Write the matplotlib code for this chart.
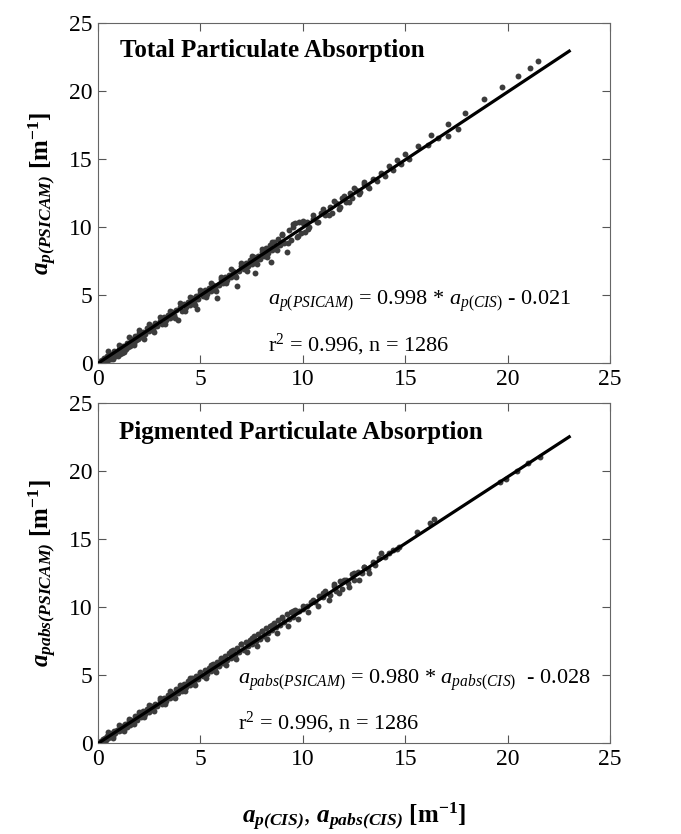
import numpy as np
import matplotlib
matplotlib.use("Agg")
import matplotlib.pyplot as plt

plt.rcParams["font.family"] = ["Liberation Serif", "DejaVu Serif"]
plt.rcParams["mathtext.fontset"] = "custom"
plt.rcParams["mathtext.rm"] = "Liberation Serif"
plt.rcParams["mathtext.it"] = "Liberation Serif:italic"
plt.rcParams["mathtext.bf"] = "Liberation Serif:bold"
plt.rcParams["mathtext.bfit"] = "Liberation Serif:italic:bold"

# total particulate absorption
ap_cis = [0.02, 0.05, 0.1, 0.15, 0.2, 0.25, 0.3, 0.35, 0.4, 0.45, 0.5, 0.55, 0.6, 0.65, 0.7, 0.75,
          0.8, 0.85, 0.9, 0.95, 1.0, 1.05, 1.1, 1.15, 1.2, 1.25, 1.3, 1.35, 1.4, 1.45, 1.5, 1.55,
          1.6, 1.65, 1.7, 1.75, 1.8, 1.85, 1.9, 1.95, 2.0, 2.1, 2.2, 2.3, 2.4, 2.5, 2.6, 2.7,
          2.8, 2.9, 3.0, 3.1, 3.2, 3.3, 3.4, 3.5, 3.6, 3.7, 3.8, 3.9, 4.0, 4.1, 4.2, 4.3,
          4.4, 4.5, 4.6, 4.7, 4.8, 4.85, 4.9, 5.0, 5.1, 5.2, 5.3, 5.4, 5.5, 5.6, 5.7, 5.8,
          5.9, 6.0, 6.1, 6.2, 6.3, 6.4, 6.5, 6.6, 6.7, 6.8, 6.9, 7.0, 7.1, 7.2, 7.3, 7.4,
          7.5, 7.6, 7.65, 7.7, 7.8, 7.9, 8.0, 8.1, 8.2, 8.3, 8.4, 8.45, 8.5, 8.6, 8.7, 8.8,
          8.9, 9.0, 9.1, 9.2, 9.3, 9.4, 9.5, 9.6, 9.7, 9.8, 9.9, 10.0, 10.1, 10.2, 10.3, 10.5,
          10.7, 10.9, 11.1, 11.3, 11.4, 11.6, 11.8, 11.9, 12.1, 12.3, 12.4, 12.6, 12.8, 13.0, 13.2, 13.4,
          13.6, 13.8, 14.0, 14.2, 14.4, 14.6, 14.8, 15.0, 15.2, 15.6, 16.1, 16.25, 16.6, 17.06, 17.06, 17.56,
          17.9, 18.85, 19.7, 20.5, 21.1, 21.5,
          # band edges
          0.5, 1.0, 1.5, 2.0, 2.5, 3.0, 3.5, 4.0, 4.5, 5.0, 5.5, 6.0, 6.5, 7.0, 7.5, 8.0,
          8.5, 9.0, 9.5, 10.0, 10.5, 11.0, 11.5, 12.0, 12.5, 13.0,
          0.75, 1.25, 1.75, 2.25, 2.75, 3.25, 3.75, 4.25, 4.75, 5.25, 5.75, 6.25, 6.75, 7.25, 7.75, 8.25,
          8.75, 9.25, 9.75, 10.25, 10.75, 11.25, 11.75, 12.25, 12.75, 13.25]
ap_psicam = [0.05, 0.0, 0.12, 0.05, 0.25, 0.1, 0.35, 0.2, 0.3, 0.5, 0.2, 0.45, 0.65, 0.3, 0.6, 0.4,
             0.85, 0.5, 0.75, 0.55, 1.05, 0.7, 0.95, 0.75, 1.25, 0.9, 1.1, 1.0, 1.5, 1.15, 1.45, 1.25,
             1.75, 1.4, 1.65, 1.5, 2.0, 1.7, 1.9, 1.75, 2.2, 1.95, 2.3, 2.15, 2.55, 2.35, 2.7, 2.5,
             2.95, 2.7, 3.1, 2.85, 3.35, 3.15, 3.5, 3.3, 3.75, 3.55, 3.9, 3.2, 4.15, 3.85, 4.35, 4.1,
             4.5, 4.3, 4.75, 4.5, 4.95, 3.95, 4.7, 5.15, 4.9, 5.35, 5.1, 5.5, 5.3, 5.75, 5.5, 4.8,
             5.75, 6.15, 5.9, 6.35, 6.1, 6.5, 6.3, 6.75, 6.5, 5.7, 6.75, 7.15, 6.9, 7.35, 7.1, 7.55,
             7.3, 7.8, 6.6, 7.5, 7.9, 7.65, 8.2, 7.9, 8.45, 8.1, 8.7, 7.4, 8.3, 8.9, 8.5, 9.15,
             8.65, 9.4, 8.85, 8.2, 9.75, 9.05, 10.0, 10.3, 9.3, 10.35, 9.55, 10.3, 9.6, 10.35, 10.0, 10.6,
             10.4, 11.05, 10.85, 11.45, 11.0, 11.75, 11.5, 12.1, 11.85, 12.5, 12.15, 12.75, 12.55, 13.15, 12.95, 13.55,
             13.4, 14.0, 13.75, 14.5, 14.2, 14.9, 14.6, 15.35, 15.0, 15.95, 16.05, 16.75, 16.55, 17.55, 16.7, 17.2,
             18.4, 19.4, 20.3, 21.1, 21.7, 22.2,
             0.85, 1.35, 1.9, 2.4, 2.85, 3.4, 3.85, 4.4, 4.85, 5.35, 5.9, 6.35, 6.9, 7.35, 7.85, 8.4,
             8.9, 9.5, 10.2, 10.45, 10.85, 11.3, 11.9, 12.3, 12.85, 13.3,
             0.3, 0.8, 1.3, 1.8, 2.3, 2.85, 3.3, 3.85, 4.3, 4.85, 5.3, 5.85, 6.3, 6.8, 7.3, 7.8,
             8.3, 8.8, 9.35, 9.85, 10.35, 10.85, 11.35, 11.85, 12.4, 12.9]

# pigmented particulate absorption
apabs_cis = [0.02, 0.05, 0.1, 0.15, 0.2, 0.25, 0.3, 0.35, 0.4, 0.45, 0.5, 0.55, 0.6, 0.7, 0.75, 0.8,
             0.85, 0.9, 1.0, 1.05, 1.1, 1.2, 1.25, 1.3, 1.4, 1.5, 1.55, 1.6, 1.7, 1.8, 1.9, 2.0,
             2.1, 2.2, 2.3, 2.4, 2.5, 2.6, 2.7, 2.8, 2.9, 3.0, 3.1, 3.2, 3.3, 3.4, 3.5, 3.6,
             3.7, 3.8, 3.9, 4.0, 4.1, 4.2, 4.3, 4.4, 4.5, 4.6, 4.7, 4.8, 4.9, 5.0, 5.1, 5.2,
             5.3, 5.4, 5.5, 5.6, 5.7, 5.8, 5.9, 6.0, 6.1, 6.2, 6.3, 6.4, 6.5, 6.6, 6.7, 6.8,
             6.9, 7.0, 7.1, 7.2, 7.3, 7.4, 7.5, 7.6, 7.7, 7.8, 7.9, 8.0, 8.1, 8.2, 8.3, 8.4,
             8.5, 8.6, 8.7, 8.8, 8.9, 9.0, 9.1, 9.2, 9.3, 9.4, 9.5, 9.6, 9.8, 10.0, 10.2, 10.4,
             10.6, 10.8, 11.0, 11.1, 11.3, 11.5, 11.6, 11.8, 11.9, 12.1, 12.2, 12.4, 12.5, 12.7, 12.9, 13.0,
             13.2, 13.4, 13.5, 13.7, 13.8, 14.0, 14.2, 14.4, 14.6, 14.7, 15.58, 16.2, 16.4, 19.63, 19.9, 20.44,
             21.0, 21.58,
             0.5, 1.0, 1.5, 2.0, 2.5, 3.0, 3.5, 4.0, 4.5, 5.0, 5.5, 6.0, 6.5, 7.0, 7.5, 8.0,
             8.5, 9.0, 9.5, 10.0, 10.5, 11.0, 11.5, 12.0, 12.5, 13.0,
             0.75, 1.25, 1.75, 2.25, 2.75, 3.25, 3.75, 4.25, 4.75, 5.25, 5.75, 6.25, 6.75, 7.25, 7.75, 8.25,
             8.75, 9.25, 9.75, 10.25, 10.75, 11.25, 11.75, 12.25, 12.75, 13.25]
apabs_psicam = [0.0, 0.08, 0.02, 0.15, 0.1, 0.3, 0.15, 0.4, 0.25, 0.5, 0.35, 0.6, 0.45, 0.75, 0.55, 0.9,
                0.7, 0.95, 0.85, 1.15, 0.95, 1.25, 1.05, 1.4, 1.2, 1.6, 1.35, 1.7, 1.5, 1.95, 1.7, 2.1,
                1.9, 2.35, 2.1, 2.5, 2.3, 2.75, 2.5, 2.9, 2.7, 3.15, 2.9, 3.3, 3.1, 3.55, 3.3, 3.7,
                3.5, 3.95, 3.7, 4.1, 3.85, 4.35, 4.1, 4.55, 4.3, 4.75, 4.45, 4.95, 4.7, 5.15, 4.9, 5.4,
                5.1, 5.55, 5.3, 5.8, 5.5, 5.95, 5.65, 6.2, 5.9, 6.4, 6.1, 6.6, 6.25, 6.85, 6.45, 7.0,
                6.7, 7.25, 6.85, 7.45, 7.1, 7.6, 7.3, 7.85, 7.5, 8.0, 7.65, 8.2, 7.9, 8.45, 8.1, 8.6,
                8.3, 8.85, 8.5, 9.05, 8.7, 9.25, 8.9, 9.45, 9.1, 9.6, 9.3, 9.75, 9.7, 9.85, 10.1, 10.4,
                10.35, 10.8, 10.7, 11.2, 10.9, 11.7, 11.2, 11.9, 11.35, 12.0, 11.75, 12.4, 12.0, 12.6, 12.5, 12.95,
                12.8, 13.3, 13.1, 13.6, 14.0, 13.7, 14.0, 14.2, 14.3, 14.4, 15.54, 16.2, 16.45, 19.21, 19.4, 20.0,
                20.56, 21.0,
                0.8, 1.3, 1.8, 2.3, 2.8, 3.3, 3.8, 4.3, 4.75, 5.25, 5.75, 6.25, 6.75, 7.3, 7.75, 8.25,
                8.7, 9.2, 9.7, 10.1, 10.55, 11.05, 11.55, 12.0, 12.5, 12.95,
                0.4, 0.9, 1.4, 1.9, 2.35, 2.85, 3.3, 3.8, 4.3, 4.75, 5.2, 5.7, 6.2, 6.7, 7.15, 7.65,
                8.1, 8.6, 9.1, 9.6, 10.05, 10.55, 11.0, 11.5, 12.0, 12.5]

# regression fits printed on the chart
fit_total = (0.998, -0.021)
fit_pig = (0.980, -0.028)
fit_xrange = [0, 23]

ticks = [0, 5, 10, 15, 20, 25]
DOT = "#3c3c3c"


def style_axes(ax):
    ax.set_xlim(0, 25)
    ax.set_ylim(0, 25)
    ax.set_xticks(ticks)
    ax.set_yticks(ticks)
    ax.tick_params(direction="in", length=6, width=0.8, top=True, right=True,
                   color="#555555", labelsize=17, pad=4)
    for s in ax.spines.values():
        s.set_color("#666666")
        s.set_linewidth(0.8)


fig = plt.figure(figsize=(6.81, 8.34), dpi=100)
ax1 = fig.add_axes([0.144, 0.5647, 0.752, 0.4077])
ax2 = fig.add_axes([0.144, 0.1091, 0.752, 0.4077])

for ax, xs, ys, fit in [(ax1, ap_cis, ap_psicam, fit_total),
                        (ax2, apabs_cis, apabs_psicam, fit_pig)]:
    ax.scatter(xs, ys, s=18, color=DOT, linewidths=0, zorder=2)
    fx = np.array(fit_xrange, dtype=float)
    ax.plot(fx, fit[0] * fx + fit[1], color="black", lw=2.3, zorder=3)
    style_axes(ax)

ax1.text(0.043, 0.92, "Total Particulate Absorption", transform=ax1.transAxes,
         fontsize=18, fontweight="bold", va="center")
ax2.text(0.041, 0.912, "Pigmented Particulate Absorption", transform=ax2.transAxes,
         fontsize=18, fontweight="bold", va="center")

ax1.text(0.332, 0.17, r"$a_{p(PSICAM)}$ = 0.998 * $a_{p(CIS)}$ - 0.021",
         transform=ax1.transAxes, fontsize=16, va="baseline")
ax1.text(0.332, 0.035, r"r$^2$ = 0.996, n = 1286",
         transform=ax1.transAxes, fontsize=16, va="baseline")
ax2.text(0.273, 0.175, r"$a_{pabs(PSICAM)}$ = 0.980 * $a_{pabs(CIS)}$  - 0.028",
         transform=ax2.transAxes, fontsize=16, va="baseline")
ax2.text(0.273, 0.04, r"r$^2$ = 0.996, n = 1286",
         transform=ax2.transAxes, fontsize=16, va="baseline")

ax1.set_ylabel(r"$\mathbfit{a}_{\mathbfit{p(PSICAM)}}$ $\mathbf{[m^{-1}]}$", fontsize=18, labelpad=8)
ax2.set_ylabel(r"$\mathbfit{a}_{\mathbfit{pabs(PSICAM)}}$ $\mathbf{[m^{-1}]}$", fontsize=18, labelpad=8)
ax2.set_xlabel(r"$\mathbfit{a}_{\mathbfit{p(CIS)}}$, $\mathbfit{a}_{\mathbfit{pabs(CIS)}}$ $\mathbf{[m^{-1}]}$",
               fontsize=18, labelpad=22)

fig.savefig("out.png", dpi=100)
